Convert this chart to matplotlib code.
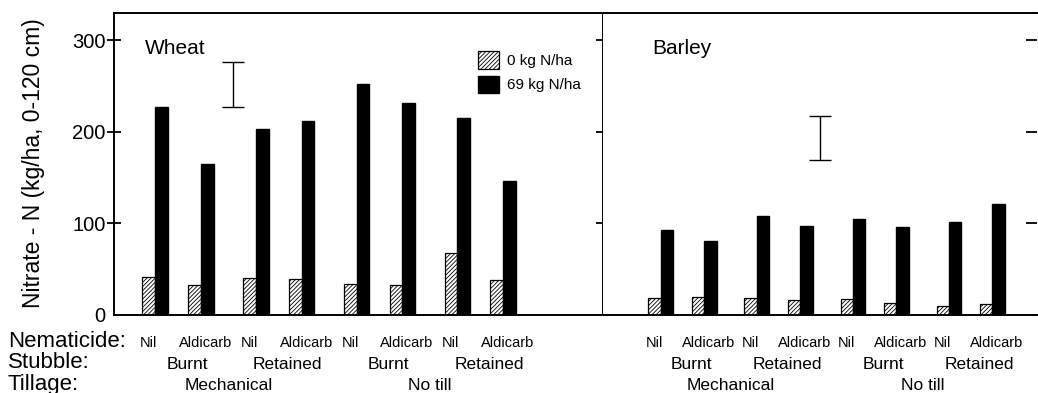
import matplotlib
matplotlib.use("Agg")
import matplotlib.pyplot as plt
import matplotlib.transforms as mtransforms
import numpy as np

plt.rcParams['font.family'] = ['Liberation Sans', 'DejaVu Sans']
plt.rcParams['hatch.linewidth'] = 0.6

# nitrate-N (kg/ha, 0-120 cm), 8 treatments per crop
wheat_0N = [42, 33, 40, 39, 34, 33, 68, 38]
wheat_69N = [227, 165, 203, 212, 252, 231, 215, 146]
barley_0N = [19, 20, 19, 16, 18, 13, 10, 12]
barley_69N = [93, 81, 108, 97, 105, 96, 101, 121]
lsd_wheat = 49
lsd_barley = 48

nematicide = ['Nil', 'Aldicarb'] * 4
stubble = ['Burnt', 'Retained'] * 2
tillage = ['Mechanical', 'No till']
series_labels = ['0 kg N/ha', '69 kg N/ha']

W, H = 1038, 393
fig = plt.figure(figsize=(W / 100, H / 100), dpi=100)

bot = (H - 315) / H
hgt = (315 - 12.5) / H
ax1 = fig.add_axes([114 / W, bot, (603 - 114) / W, hgt])
ax2 = fig.add_axes([603 / W, bot, (1037 - 603) / W, hgt])

idx = np.arange(8)
xpos = idx + 0.2 * (idx // 2)
w = 0.28


def panel(ax, lo, hi, xlim, lsd, lsd_x, lsd_y):
    hb = ax.bar(xpos - w / 2, lo, w, facecolor='white', edgecolor='black',
                hatch='////////', linewidth=0.9)
    bb = ax.bar(xpos + w / 2, hi, w, color='black', edgecolor='black')
    ax.errorbar([lsd_x], [lsd_y], yerr=[lsd / 2], fmt='none', ecolor='black',
                elinewidth=1.0, capsize=8, capthick=1.0)
    ax.set_xlim(*xlim)
    ax.set_ylim(0, 330)
    ax.set_xticks([])
    for s in ax.spines.values():
        s.set_linewidth(1.4)

    # treatment labels below the axis
    tr = mtransforms.blended_transform_factory(ax.transData, fig.transFigure)
    for i in range(8):
        if i % 2 == 0:
            xx = xpos[i] - w / 2
        else:
            xx = xpos[i] + 0.1
        ax.text(xx, 1 - 347 / H, nematicide[i], transform=tr, ha='center',
                va='baseline', fontsize=10.5)
    for j in range(4):
        xx = xpos[2 * j:2 * j + 2].mean() + 0.2
        ax.text(xx, 1 - 369 / H, stubble[j], transform=tr, ha='center',
                va='baseline', fontsize=12.5)
    for k in range(2):
        xx = xpos[4 * k:4 * k + 4].mean()
        ax.text(xx, 1 - 390 / H, tillage[k], transform=tr, ha='center',
                va='baseline', fontsize=12.5)
    return hb, bb


hb, bb = panel(ax1, wheat_0N, wheat_69N, (-0.895, 9.78), lsd_wheat, 1.70, 251)
panel(ax2, barley_0N, barley_69N, (-1.32, 8.62), lsd_barley, 3.65, 193)

ax1.set_yticks([0, 100, 200, 300])
ax1.tick_params(axis='y', direction='inout', length=10, width=1.3, pad=1,
                labelsize=14.5, right=True)
ax1.yaxis.get_major_ticks()[0].tick1line.set_visible(False)
ax1.yaxis.get_major_ticks()[0].tick2line.set_visible(False)

ax2.spines['left'].set_visible(False)
ax2.spines['right'].set_visible(False)
ax2.set_yticks([100, 200, 300])
ax2.tick_params(axis='y', left=False, right=True, labelleft=False,
                direction='in', length=8, width=1.3)

ax1.text(0.063, 0.863, 'Wheat', transform=ax1.transAxes, fontsize=15,
         va='baseline')
ax2.text(0.113, 0.863, 'Barley', transform=ax2.transAxes, fontsize=15,
         va='baseline')

fig.text(34 / W, 1 - 163 / H, 'Nitrate - N (kg/ha, 0-120 cm)', rotation=90,
         ha='center', va='center', fontsize=16.5)

fig.text(8 / W, 1 - 347 / H, 'Nematicide:', fontsize=16, va='baseline')
fig.text(8 / W, 1 - 368 / H, 'Stubble:', fontsize=16, va='baseline')
fig.text(8 / W, 1 - 390 / H, 'Tillage:', fontsize=16, va='baseline')

fig.legend([hb, bb], series_labels, loc='upper left',
           bbox_to_anchor=(478 / W, 1 - 51 / H), frameon=False, fontsize=11,
           handlelength=1.4, handleheight=1.4, handletextpad=0.5,
           labelspacing=0.45, borderpad=0, borderaxespad=0)

fig.savefig('out.png', dpi=100)
